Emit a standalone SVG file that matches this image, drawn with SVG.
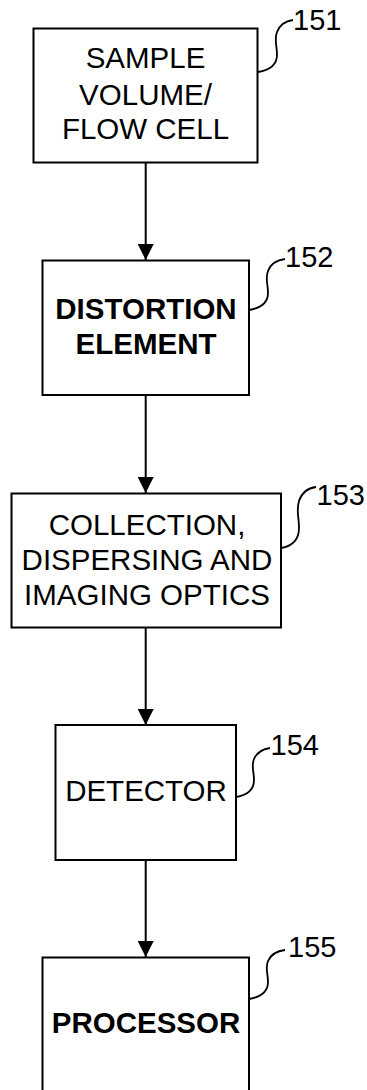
<svg xmlns="http://www.w3.org/2000/svg" width="367" height="1090" viewBox="0 0 367 1090">
<defs>
<style>
.box{fill:#fff;stroke:#000;stroke-width:2}
.t{font-family:"Liberation Sans",Arial,sans-serif;font-size:29.5px;fill:#000;text-anchor:middle}
.b{font-weight:bold}
.lbl{font-family:"Liberation Sans",Arial,sans-serif;font-size:29px;fill:#000}
.conn{stroke:#000;stroke-width:2;fill:none}
.lead{stroke:#000;stroke-width:1.8;fill:none}
</style>
<marker id="ah" markerUnits="userSpaceOnUse" markerWidth="16" markerHeight="18" refX="16" refY="8" orient="auto">
<path d="M0,0 L16,8 L0,16 Z" fill="#000"/>
</marker>
</defs>
<rect width="367" height="1090" fill="#fff"/>
<g id="connectors">
<line class="conn" x1="145.7" y1="163" x2="145.7" y2="260" marker-end="url(#ah)"/>
<line class="conn" x1="145.7" y1="395" x2="145.7" y2="493" marker-end="url(#ah)"/>
<line class="conn" x1="145.7" y1="628" x2="145.7" y2="725" marker-end="url(#ah)"/>
<line class="conn" x1="145.7" y1="860" x2="145.7" y2="957" marker-end="url(#ah)"/>
</g>
<g id="n151">
<rect class="box" x="33.5" y="28.5" width="224" height="134"/>
<text class="t" x="145.5" y="68">SAMPLE</text>
<text class="t" x="145.5" y="105">VOLUME/</text>
<text class="t" x="145.5" y="139">FLOW CELL</text>
<path class="lead" d="M258,72 c12,-2 19,-8 19,-17 c0,-10 -3,-15 0,-23 c3,-8 9,-11 16,-12"/>
<text class="lbl" x="293" y="30">151</text>
</g>
<g id="n152">
<rect class="box" x="42.5" y="260.5" width="206.5" height="134.5"/>
<text class="t b" x="146" y="319">DISTORTION</text>
<text class="t b" x="146" y="354">ELEMENT</text>
<path class="lead" d="M249,310 c12,-2 19,-8 19,-17 c0,-10 -3,-14 0,-22 c3,-8 9,-11 17,-12"/>
<text class="lbl" x="285" y="267">152</text>
</g>
<g id="n153">
<rect class="box" x="11.5" y="493.5" width="269.5" height="134"/>
<text class="t" x="147" y="535">COLLECTION,</text>
<text class="t" x="147" y="570">DISPERSING AND</text>
<text class="t" x="147" y="605">IMAGING OPTICS</text>
<path class="lead" d="M281,548 c12,-2 18,-9 18,-20 c0,-12 -3,-17 0,-27 c3,-9 9,-13 17,-14"/>
<text class="lbl" x="316.5" y="505">153</text>
</g>
<g id="n154">
<rect class="box" x="55.5" y="725" width="180.5" height="135"/>
<text class="t" x="146" y="800.5">DETECTOR</text>
<path class="lead" d="M236,797 c12,-2 18,-8 18,-17 c0,-9 -3,-14 0,-21 c3,-7 9,-10 16,-11"/>
<text class="lbl" x="270.5" y="755">154</text>
</g>
<g id="n155">
<rect class="box" x="42.5" y="957.5" width="206.5" height="150"/>
<text class="t b" x="146" y="1033">PROCESSOR</text>
<path class="lead" d="M249,999 c12,-2 19,-8 19,-17 c0,-9 -3,-14 0,-21 c3,-7 9,-10 17,-11"/>
<text class="lbl" x="288" y="956.5">155</text>
</g>
</svg>
